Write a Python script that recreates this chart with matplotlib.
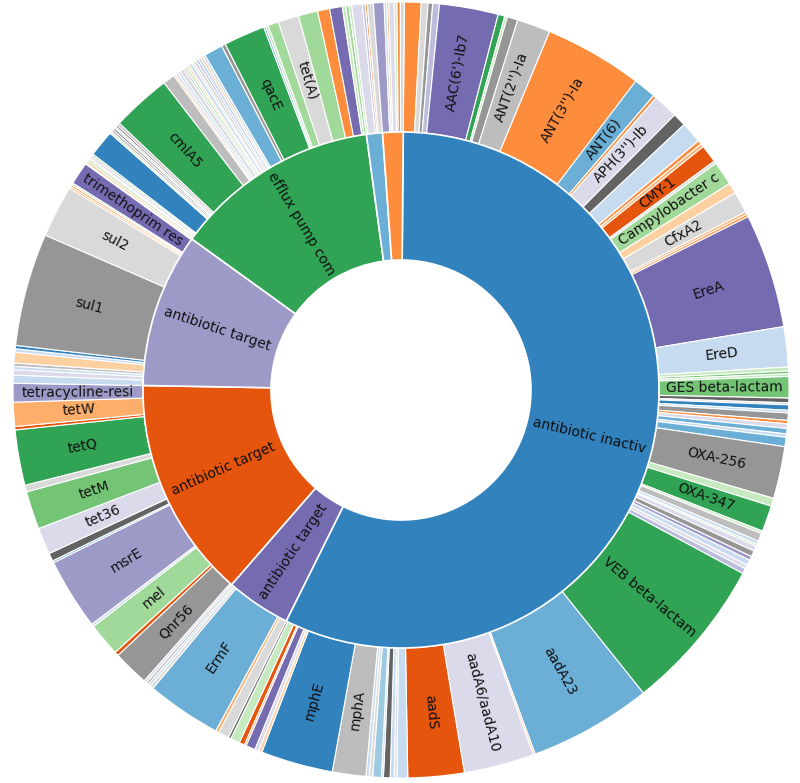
import matplotlib
matplotlib.use("Agg")
import matplotlib.pyplot as plt
import numpy as np

# ---------------- data ----------------
inner_labels = ["antibiotic inactiv", "antibiotic target", "antibiotic target",
                "antibiotic target", "efflux pump com", "", ""]

# group 1: antibiotic inactivation
g1_names = ["", "", "", "", "AAC(6')-Ib7", "", "", "", "ANT(2'')-Ia", "ANT(3'')-Ia",
            "ANT(6)", "", "APH(3'')-Ib", "", "", "", "", "CMY-1", "", "Campylobacter c",
            "", "CfxA2", "", "", "EreA", "EreD", "", "", "", "GES beta-lactam",
            "", "", "", "", "", "", "", "", "", "",
            "OXA-256", "", "OXA-347",
            "", "", "", "", "", "", "", "", "", "",
            "VEB beta-lactam", "aadA23", "", "aadA6/aadA10", "aadS",
            "", "", "", "", "", "", "", "",
            "mphA", "mphE",
            "", "", "", "", "", "", ""]
g1_values = [2.5, 1.0, 0.7, 1.0, 8.8, 1.0, 0.4, 1.6, 5.0, 14.7,
             3.4, 0.5, 3.7, 2.0, 3.2, 0.6, 0.5, 2.7, 0.4, 3.6,
             1.6, 3.2, 0.4, 0.4, 17.1, 6.0, 0.6, 0.4, 0.4, 3.2,
             0.7, 0.3, 0.8, 0.4, 1.1, 0.5, 0.7, 0.8, 0.5, 1.4,
             7.8, 1.2, 3.9,
             0.4, 1.2, 0.5, 0.3, 0.8, 0.9, 0.6, 0.8, 0.6, 0.8,
             23.1, 18.4, 0.3, 10.5, 8.4,
             1.6, 0.4, 0.6, 1.0, 0.3, 1.3, 0.5, 0.5,
             5.0, 10.8,
             0.5, 0.6, 1.4, 0.3, 0.8, 1.4, 0.4]

# group 2: antibiotic target (purple)
g2_names = ["", "", "ErmF", "", "", ""]
g2_values = [1.6, 0.5, 11.2, 0.5, 0.4, 0.4]

# group 3: antibiotic target (orange)
g3_names = ["", "Qnr56", "", "mel", "", "msrE", "", "", "tet36", "tetM", "",
            "tetQ", "", "tetW", "tetracycline-resi"]
g3_values = [0.4, 5.4, 0.6, 5.0, 0.4, 10.7, 0.3, 1.2, 4.0, 5.7, 1.0,
             8.3, 0.5, 3.6, 2.8]

# group 4: antibiotic target (lavender)
g4_names = ["", "", "", "", "", "", "", "sul1", "sul2", "", "", "",
            "trimethoprim res", ""]
g4_values = [1.2, 0.8, 0.5, 0.5, 1.6, 0.5, 0.5, 16.9, 7.8, 0.3, 0.3, 0.3,
             3.4, 0.2]

# group 5: efflux pump complex
g5_names = ["", "", "", "", "", "", "", "", "", "", "", "", "cmlA5",
            "", "", "", "", "", "", "", "", "", "", "", "", "", "", "",
            "", "", "qacE", "", "", "", "tet(A)", "", "", "", "", ""]
g5_values = [0.3, 0.4, 0.2, 0.4, 0.3, 4.0, 0.3, 0.4, 0.3, 0.3, 0.3, 0.4, 8.9,
             1.8, 0.3, 0.4, 0.4, 0.6, 0.3, 0.4, 0.3, 0.5, 0.3, 0.5, 0.3, 0.5, 0.3, 0.4,
             2.8, 0.6, 6.2, 0.3, 0.4, 1.6, 3.1, 2.9, 1.8, 1.9, 0.5, 0.5]

# groups 6 and 7: small unlabeled categories
g6_names = ["", "", "", "", ""]
g6_values = [0.4, 1.6, 0.4, 0.3, 0.9]
g7_names = ["", "", "", "", "", "", ""]
g7_values = [1.6, 0.4, 0.3, 0.8, 0.4, 0.5, 0.6]

# ---------------- styles ----------------
inner_colors = ["#3182bd", "#756bb1", "#e6550d", "#9e9ac8", "#31a354", "#6baed6", "#fd8d3c"]

g1_colors = ["#fd8d3c", "#d9d9d9", "#969696", "#bcbddc", "#756bb1", "#31a354", "#c7e9c0",
             "#969696", "#bdbdbd", "#fd8d3c",
             "#6baed6", "#fd8d3c", "#dadaeb", "#636363", "#c6dbef", "#fd8d3c", "#fdae6b",
             "#e6550d", "#d9d9d9", "#a1d99b",
             "#fdd0a2", "#d9d9d9", "#fdae6b", "#fd8d3c", "#756bb1", "#c6dbef", "#c7e9c0",
             "#74c476", "#c7e9c0", "#74c476",
             "#636363", "#d9d9d9", "#3182bd", "#c6dbef", "#969696", "#fd8d3c", "#dadaeb",
             "#6baed6", "#c6dbef", "#6baed6",
             "#969696", "#c7e9c0", "#31a354",
             "#c7e9c0", "#bdbdbd", "#c6dbef", "#c7e9c0", "#dadaeb", "#969696", "#9e9ac8",
             "#c6dbef", "#dadaeb", "#bcbddc",
             "#31a354", "#6baed6", "#fdd0a2", "#dadaeb", "#e6550d",
             "#c6dbef", "#dadaeb", "#c6dbef", "#636363", "#c6dbef", "#9ecae1", "#d9d9d9",
             "#c6dbef",
             "#bdbdbd", "#3182bd",
             "#fdd0a2", "#dadaeb", "#756bb1", "#fdae6b", "#e6550d", "#c7e9c0", "#636363"]
g2_colors = ["#d9d9d9", "#fdae6b", "#6baed6", "#d9d9d9", "#c6dbef", "#bdbdbd"]
g3_colors = ["#dadaeb", "#969696", "#e6550d", "#a1d99b", "#c6dbef", "#9e9ac8", "#6baed6",
             "#636363", "#dadaeb", "#74c476", "#d9d9d9", "#31a354", "#e6550d", "#fdae6b",
             "#9e9ac8"]
g4_colors = ["#c6dbef", "#dadaeb", "#c6dbef", "#bdbdbd", "#fdd0a2", "#c6dbef", "#3182bd",
             "#969696", "#d9d9d9", "#fdae6b", "#fd8d3c", "#c7e9c0", "#756bb1", "#fdae6b"]
g5_colors = ["#fdae6b", "#c7e9c0", "#fd8d3c", "#dadaeb", "#a1d99b", "#3182bd", "#c7e9c0",
             "#bdbdbd", "#636363", "#d9d9d9", "#636363", "#bdbdbd", "#31a354",
             "#bdbdbd", "#fdd0a2", "#dadaeb", "#c6dbef", "#d9d9d9", "#bcbddc", "#c7e9c0",
             "#fdd0a2", "#c6dbef", "#dadaeb", "#d9d9d9", "#9e9ac8", "#c6dbef", "#fdae6b",
             "#c6dbef",
             "#6baed6", "#969696", "#31a354", "#6baed6", "#c7e9c0", "#a1d99b", "#d9d9d9",
             "#a1d99b", "#fd8d3c", "#756bb1", "#c7e9c0", "#a1d99b"]
g6_colors = ["#c7e9c0", "#dadaeb", "#bcbddc", "#fd8d3c", "#d9d9d9"]
g7_colors = ["#9e9ac8", "#c6dbef", "#fdae6b", "#dadaeb", "#c7e9c0", "#fd8d3c", "#d9d9d9"]

groups_names = [g1_names, g2_names, g3_names, g4_names, g5_names, g6_names, g7_names]
groups_values = [g1_values, g2_values, g3_values, g4_values, g5_values, g6_values, g7_values]
groups_colors = [g1_colors, g2_colors, g3_colors, g4_colors, g5_colors, g6_colors, g7_colors]

outer_names = sum(groups_names, [])
outer_values = sum(groups_values, [])
outer_colors = sum(groups_colors, [])
inner_values = [sum(v) for v in groups_values]

# ---------------- figure ----------------
W, H = 800, 783
R = 388.0
cx, cy = 401.0, 390.0
fig = plt.figure(figsize=(W / 100, H / 100), dpi=100)
ax = fig.add_axes([0, 0, 1, 1])

r_out = 1.0
r_mid = 258.0 / R
r_hole = 130.0 / R

start = 89.5
outer_wedges, _ = ax.pie(outer_values, radius=r_out, colors=outer_colors,
                         startangle=start, counterclock=False,
                         wedgeprops=dict(width=r_out - r_mid, edgecolor="white", linewidth=0.8))
inner_wedges, _ = ax.pie(inner_values, radius=r_mid, colors=inner_colors,
                         startangle=start, counterclock=False,
                         wedgeprops=dict(width=r_mid - r_hole, edgecolor="white", linewidth=1.2))


def put_label(wedge, text, radius):
    if not text:
        return
    mid = 0.5 * (wedge.theta1 + wedge.theta2)
    a = mid % 360
    x = radius * np.cos(np.deg2rad(a))
    y = radius * np.sin(np.deg2rad(a))
    rot = a - 180 if 90 < a < 270 else a
    ax.text(x, y, text, rotation=rot, rotation_mode="anchor", ha="center", va="center",
            fontsize=10, color="#111111", family="DejaVu Sans")


for w, t in zip(outer_wedges, outer_names):
    put_label(w, t, (r_out + r_mid) / 2)
for w, t in zip(inner_wedges, inner_labels):
    put_label(w, t, (r_mid + r_hole) / 2)

ax.set_xlim(-cx / R, (W - cx) / R)
ax.set_ylim(-(H - cy) / R, cy / R)
ax.set_aspect("equal", adjustable="box")
ax.axis("off")

fig.savefig("out.png", dpi=100, facecolor="white")
